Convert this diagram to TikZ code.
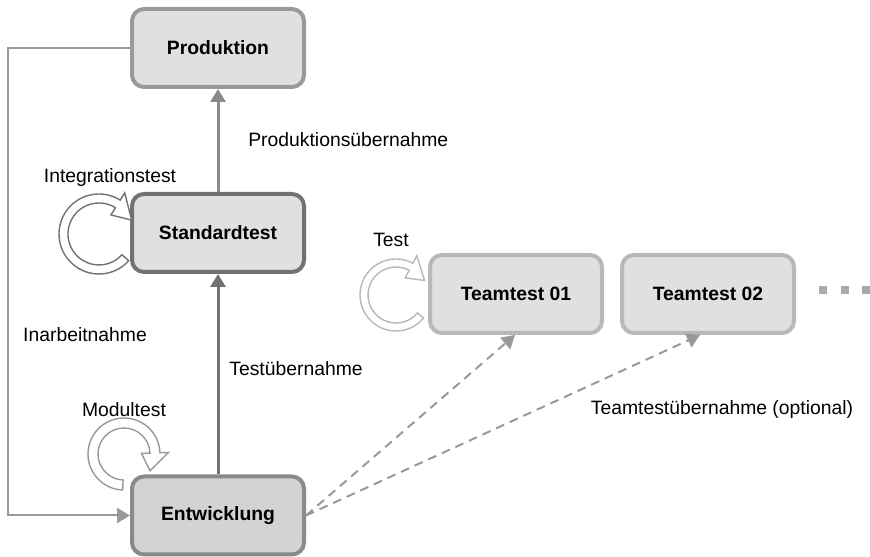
\documentclass[tikz,border=0pt]{standalone}
\usepackage{fontspec}
\setmainfont{Liberation Sans}
\usepackage{tikz}
\usetikzlibrary{arrows.meta,positioning}
\definecolor{boxfill}{HTML}{E0E0E0}
\definecolor{devfill}{HTML}{D3D3D3}
\definecolor{midgray}{HTML}{999999}
\definecolor{darkgray}{HTML}{727272}
\definecolor{lightgray}{HTML}{B8B8B8}
\definecolor{dotgray}{HTML}{AAAAAA}
\newcommand{\wing}{0.17}
% C-shaped outline arrow: center, start angle, end angle, R, r, colour
\newcommand{\cyclearrow}[6]{
\filldraw[draw=#6, fill=white, line width=0.8pt, line join=miter, shift={#1}]
  ({#2}:{#4}) arc[start angle=#2, end angle=#3, radius=#4]
  -- ({#3}:{#4+\wing}) -- ({#3-35}:{(#4+#5)/2}) -- ({#3}:{#5-\wing})
  -- ({#3}:{#5}) arc[start angle=#3, end angle=#2, radius=#5] -- cycle;
}
\tikzset{
  stage/.style={rounded corners=0.24cm, line width=0.08cm, fill=boxfill,
    minimum width=3.44cm, minimum height=1.56cm, font=\fontsize{11}{13}\selectfont\bfseries},
  lbl/.style={font=\fontsize{11}{13}\selectfont, inner sep=0pt},
  tip/.style={-{Triangle[length=0.26cm, width=0.3cm]}}
}

\begin{document}
\begin{tikzpicture}
\useasboundingbox (0,0) rectangle (17.4,11.14);
\node[stage, draw=midgray] (prod) at (4.36, 10.18) {Produktion};
\node[stage, draw=darkgray] (std) at (4.36, 6.48) {Standardtest};
\node[stage, draw=midgray!90!black, fill=devfill] (entw) at (4.36, 0.83) {Entwicklung};
\node[stage, draw=lightgray] (tt1) at (10.32, 5.26) {Teamtest 01};
\node[stage, draw=lightgray] (tt2) at (14.16, 5.26) {Teamtest 02};
\foreach \x [count=\i] in {16.46, 16.9, 17.32}
  \node[fill=dotgray, minimum size=0.16cm, inner sep=0pt] (dot\i) at (\x, 5.34) {};
%labels
\node[lbl, anchor=west] (lprod) at (4.96, 8.34) {Produktionsübernahme};
\node[lbl] (lint) at (2.2, 7.58) {Integrationstest};
\node[lbl] (ltest) at (7.82, 6.34) {Test};
\node[lbl] (linarb) at (1.70, 4.44) {Inarbeitnahme};
\node[lbl] (ltestueb) at (5.92, 3.76) {Testübernahme};
\node[lbl] (lmodul) at (2.48, 2.94) {Modultest};
\node[lbl] (lteam) at (14.44, 2.94) {Teamtestübernahme (optional)};
%connectors
\coordinate (loop) at (0.16, 10.18);
\draw[midgray, line width=0.04cm, tip] (prod.west) -- (loop) |- (entw.west);
\draw[midgray!90!black, line width=0.06cm, tip] (std.north) -- (prod.south);
\draw[darkgray, line width=0.06cm, tip] (entw.north) -- (std.south);
\draw[midgray, line width=0.04cm, dash pattern=on 5pt off 3.5pt, tip] (entw.east) -- ([xshift=-0.02cm]tt1.south);
\draw[midgray, line width=0.04cm, dash pattern=on 5pt off 3.5pt, tip] (entw.east) -- ([xshift=-0.16cm]tt2.south);
%cycles
\cyclearrow{(1.98, 6.46)}{318}{58}{0.8}{0.62}{darkgray}
\cyclearrow{(7.92, 5.24)}{320}{62}{0.72}{0.56}{lightgray}
\cyclearrow{(2.48, 2.06)}{268}{2}{0.72}{0.52}{midgray}
\end{tikzpicture}
\end{document}
